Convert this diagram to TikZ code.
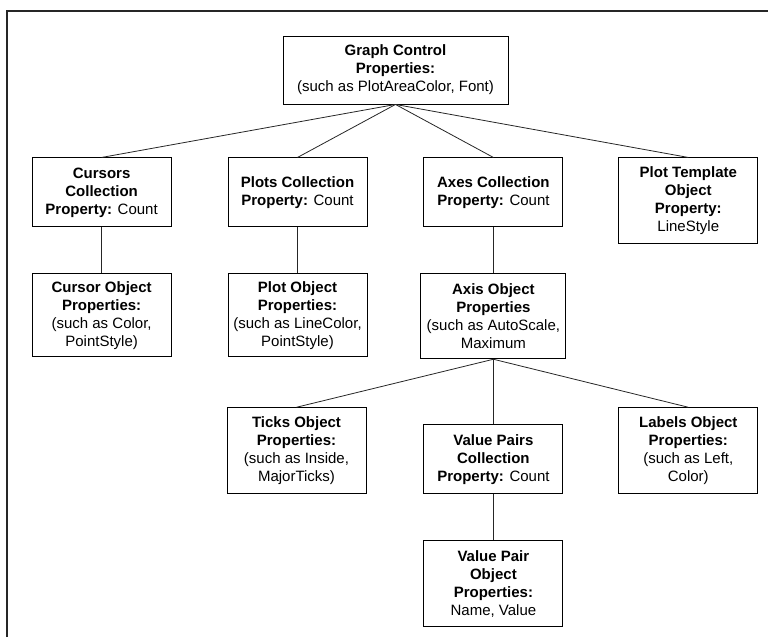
\documentclass[tikz,border=0pt]{standalone}
\usepackage{fontspec}
\setmainfont{Liberation Sans}
\usetikzlibrary{positioning}

\begin{document}
\begin{tikzpicture}[
  x=1pt, y=1pt,
  prop/.style={draw=black, line width=0.9pt, fill=white,
               font=\fontsize{15}{18}\selectfont, align=center,
               inner xsep=2pt, inner ysep=0pt,
               minimum width=139pt, minimum height=69pt},
  tall/.style={prop, minimum height=86pt},
  link/.style={draw=black!85, line width=0.8pt},
]
\useasboundingbox (0,0) rectangle (768,-637);

%% ---- outer frame (top and left edge only) ----
\draw[line width=1.4pt, black!85] (7,-637) -- (7,-11) -- (768,-11);

%% ---- Root ----
\node[prop, minimum width=225pt, minimum height=68pt] (gc) at (395.5,-70)
  {\textbf{Graph Control}\\\textbf{Properties:}\\(such as PlotAreaColor, Font)};

%% ---- Row 1: collections ----
\node[prop, below left=53pt and 111pt of gc] (cur)
  {\textbf{Cursors}\\\textbf{Collection}\\\textbf{Property:} Count};
\node[prop, right=56pt of cur] (plots)
  {\textbf{Plots Collection}\\\textbf{Property:} Count};
\node[prop, right=56pt of plots] (axes)
  {\textbf{Axes Collection}\\\textbf{Property:} Count};
\node[tall, right=55pt of axes.north east, anchor=north west] (tmpl)
  {\textbf{Plot Template}\\\textbf{Object}\\\textbf{Property:}\\LineStyle};

%% ---- Row 2: objects ----
\node[tall, minimum height=83pt, below=46pt of cur] (curobj)
  {\textbf{Cursor Object}\\\textbf{Properties:}\\(such as Color,\\PointStyle)};
\node[tall, minimum height=83pt, below=46pt of plots] (plotobj)
  {\textbf{Plot Object}\\\textbf{Properties:}\\(such as LineColor,\\PointStyle)};
\node[tall, minimum width=145pt, minimum height=85pt, below=46pt of axes] (axobj)
  {\textbf{Axis Object}\\\textbf{Properties}\\(such as AutoScale,\\Maximum};

%% ---- Row 3: axis parts ----
\node[prop, below=65pt of axobj] (vpairs)
  {\textbf{Value Pairs}\\\textbf{Collection}\\\textbf{Property:} Count};
\node[tall, left=57pt of vpairs.south west, anchor=south east] (ticks)
  {\textbf{Ticks Object}\\\textbf{Properties:}\\(such as Inside,\\MajorTicks)};
\node[tall, right=55pt of vpairs.south east, anchor=south west] (labels)
  {\textbf{Labels Object}\\\textbf{Properties:}\\(such as Left,\\Color)};

%% ---- Row 4 ----
\node[tall, below=46pt of vpairs] (vpobj)
  {\textbf{Value Pair}\\\textbf{Object}\\\textbf{Properties:}\\Name, Value};

%% ---- Connectors ----
\foreach \child in {cur, plots, axes, tmpl}
  \draw[link] (gc.south) -- (\child.north);
\draw[link] (cur.south) -- (curobj.north);
\draw[link] (plots.south) -- (plotobj.north);
\draw[link] (axes.south) -- (axobj.north);
\foreach \child in {ticks, vpairs, labels}
  \draw[link] (axobj.south) -- (\child.north);
\draw[link] (vpairs.south) -- (vpobj.north);

\end{tikzpicture}
\end{document}
